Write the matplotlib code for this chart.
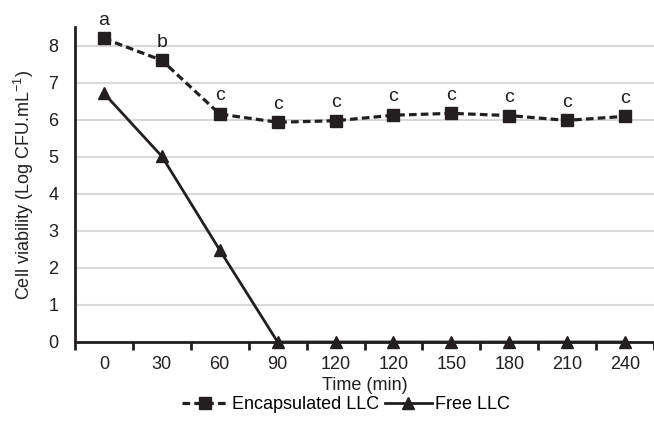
import matplotlib
matplotlib.use("Agg")
import matplotlib.pyplot as plt
import numpy as np

times = ["0", "30", "60", "90", "120", "120", "150", "180", "210", "240"]
encapsulated = [8.19, 7.60, 6.15, 5.93, 5.97, 6.12, 6.17, 6.11, 5.98, 6.09]
free = [6.71, 5.01, 2.48, 0, 0, 0, 0, 0, 0, 0]
letters = ["a", "b", "c", "c", "c", "c", "c", "c", "c", "c"]

ink = '#231f20'
plt.rcParams['font.family'] = ['Liberation Sans', 'DejaVu Sans']

fig = plt.figure(figsize=(6.54, 4.24), dpi=100)
ax = fig.add_axes([75/654, 82/424, 1 - 75/654, (342-27)/424])

x = np.arange(len(times))
ax.plot(x, encapsulated, color=ink, lw=2.3, ls=(0, (2.4, 1.3)), marker='s', ms=8,
        label="Encapsulated LLC", zorder=3, clip_on=False)
ax.plot(x, free, color=ink, lw=2.0, marker='^', ms=8.5, label="Free LLC", zorder=3,
        clip_on=False)

for i in range(len(x)):
  ax.annotate(letters[i], (x[i], encapsulated[i]), xytext=(0, 7), textcoords='offset points',
              ha='center', va='bottom', fontsize=14, color=ink)

ax.set_xlim(-0.5, len(times) - 0.5)
ax.set_ylim(0, 8.5)
ax.set_yticks(range(9))
ax.set_xticks(x)
ax.set_xticklabels(times)
ax.set_xticks(np.arange(-0.5, len(times)), minor=True)
ax.tick_params(axis='x', which='major', length=0, pad=10, labelsize=13, colors=ink)
ax.tick_params(axis='x', which='minor', length=6, width=2, color=ink, direction='out')
ax.tick_params(axis='y', length=0, pad=12, labelsize=13, colors=ink)

ax.grid(axis='y', color='#d9d9d9', lw=1.5)
ax.set_axisbelow(True)
for s in ['top', 'right']:
  ax.spines[s].set_visible(False)
ax.spines['left'].set_linewidth(2)
ax.spines['left'].set_color(ink)
ax.spines['bottom'].set_linewidth(2)
ax.spines['bottom'].set_color(ink)

ax.set_xlabel("Time (min)", fontsize=13, color=ink, labelpad=3)
ax.set_ylabel("Cell viability (Log CFU.mL$^{\\mathregular{-1}}$)", fontsize=13, color=ink, labelpad=9)

ax.legend(loc='upper center', bbox_to_anchor=(0.5 - 75/654/2 + 0.025, -0.15), ncol=2, frameon=False,
          fontsize=13, handlelength=2.6, columnspacing=0.3, handletextpad=0.2, borderaxespad=0)

fig.savefig("out.png", dpi=100)
